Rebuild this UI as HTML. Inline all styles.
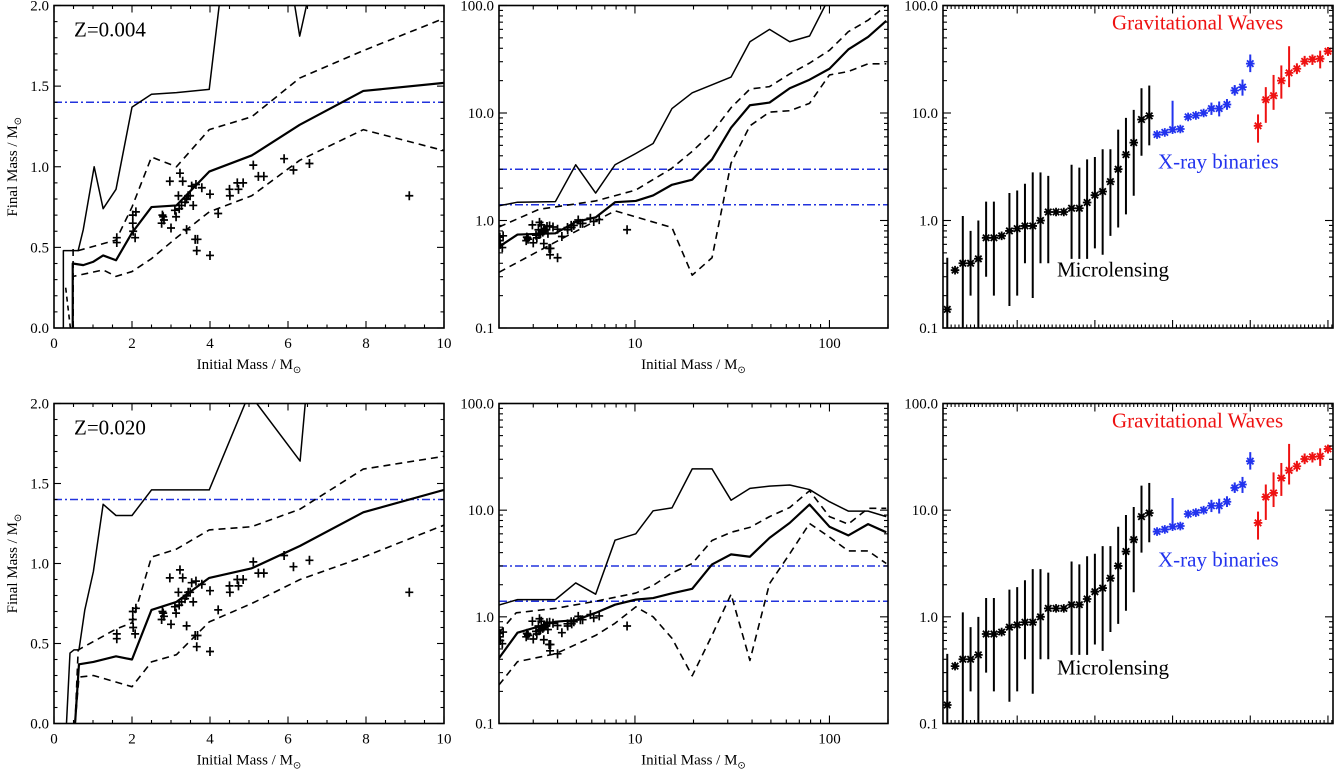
<!DOCTYPE html>
<html><head><meta charset="utf-8"><style>
html,body{margin:0;padding:0;background:#fff;}
svg{display:block;}
svg text{font-family:"Liberation Serif",serif;}
</style></head><body>
<svg id="fig" width="1336" height="769" viewBox="0 0 1336 769" xmlns="http://www.w3.org/2000/svg" font-family="Liberation Serif, serif"></svg>
<script>
// ---------- observed white dwarf points (shared) ----------
const obsMi=[1.61,1.61,2.02,2.02,2.03,2.08,2.10,2.78,2.80,2.82,2.76,3.0,2.97,3.23,3.30,3.19,3.27,3.21,3.13,3.10,3.36,3.40,3.44,3.49,3.53,3.64,3.40,3.57,3.62,3.68,3.66,3.79,4.0,4.0,4.21,4.50,4.51,4.70,4.73,4.85,5.11,5.24,5.38,5.90,6.14,6.55,9.11];
const obsMf=[0.56,0.53,0.70,0.65,0.60,0.56,0.72,0.70,0.69,0.67,0.65,0.62,0.91,0.96,0.91,0.82,0.76,0.74,0.69,0.73,0.78,0.80,0.82,0.82,0.88,0.89,0.61,0.76,0.55,0.55,0.48,0.87,0.83,0.45,0.71,0.86,0.82,0.90,0.86,0.90,1.01,0.94,0.94,1.05,0.98,1.02,0.82];

// ---------- Z=0.004 linear panel ----------
const z004UpMi=[0.24,0.24,0.62,0.75,1.03,1.26,1.59,2.0,2.5,3.14,3.98,4.26,6.14,6.3,6.52];
const z004UpMf=[0,0.48,0.48,0.61,1.0,0.74,0.86,1.37,1.45,1.46,1.48,2.05,2.05,1.81,2.05];
const z004MedMi=[0.48,0.48,0.75,1.0,1.26,1.59,2.0,2.5,3.14,3.98,5.07,6.3,7.93,10];
const z004MedMf=[0,0.40,0.39,0.41,0.45,0.42,0.59,0.75,0.76,0.97,1.07,1.26,1.47,1.52];
const z004DhMi=[0.49,0.49,0.62,1.59,2.0,2.5,3.14,3.98,5.07,6.3,7.93,10];
const z004DhMf=[0,0.49,0.48,0.545,0.75,1.06,1.0,1.23,1.31,1.55,1.72,1.92];
const z004DlMi=[0.49,0.49,1.26,1.59,2.0,2.5,3.14,3.98,5.07,6.3,7.93,10];
const z004DlMf=[0,0.32,0.36,0.32,0.35,0.43,0.56,0.72,0.82,1.04,1.23,1.10];
const z004DsMi=[0.30,0.42];
const z004DsMf=[0.25,0];

// ---------- Z=0.020 linear panel ----------
const z020UpMi=[0.32,0.41,0.51,0.64,0.79,1.01,1.26,1.59,2.0,2.5,3.14,3.98,4.9,5.05,5.2,6.31,6.46];
const z020UpMf=[0,0.44,0.46,0.46,0.71,0.95,1.37,1.30,1.30,1.46,1.46,1.46,2.0,2.08,2.0,1.64,2.05];
const z020MedMi=[0.54,0.64,1.01,1.59,2.0,2.5,3.14,3.98,5.07,6.31,7.93,10];
const z020MedMf=[0,0.37,0.385,0.42,0.40,0.71,0.76,0.91,0.97,1.11,1.32,1.46];
const z020DhMi=[0.54,0.62,1.59,2.0,2.5,3.14,3.98,5.07,6.31,7.93,10];
const z020DhMf=[0,0.46,0.59,0.63,1.04,1.09,1.21,1.23,1.34,1.59,1.67];
const z020DlMi=[0.54,0.64,1.01,2.0,2.5,3.14,3.98,5.07,6.31,7.93,10];
const z020DlMf=[0,0.29,0.30,0.23,0.385,0.43,0.635,0.75,0.90,1.04,1.24];

// ---------- Z=0.004 log panel ----------
const l004UpMi=[2,2.49,3.9,4.96,6.28,7.9,10.1,12.4,15.5,19.7,24.9,31.2,39,49.2,62.5,79,95,110];
const l004UpMf=[1.37,1.48,1.5,3.3,1.8,3.3,4.2,5.2,11,15.4,18.3,21.6,46,60,46,52,100,160];
const l004MedMi=[2,2.49,3.9,4.96,6.28,7.9,10.1,12.4,15.5,19.7,24.9,31.2,39,49.2,62.5,79,100,125,158,196];
const l004MedMf=[0.57,0.74,0.76,0.97,1.07,1.48,1.52,1.71,2.15,2.4,3.7,7.3,11.8,12.5,17,20.4,25.8,39,51,72];
const l004DhMi=[2,3.21,6.28,10.1,15.5,19.7,24.9,31.2,39,49.2,62.5,79,100,125,158,196];
const l004DhMf=[0.87,1.27,1.52,1.92,3.07,4.4,6.55,11.2,16.7,17.6,23.1,29.1,38.3,57,73,100];
const l004DlMi=[2,3.9,7.9,15.5,19.7,24.9,31.2,39,49.2,62.5,79,100,125,158,196];
const l004DlMf=[0.33,0.63,1.23,0.86,0.31,0.45,3.42,7.6,10.2,10.5,12.3,22.6,24.3,28.7,28.7];

// ---------- Z=0.020 log panel ----------
const l020UpMi=[2,2.49,3.9,4.96,6.28,7.9,10.1,12.4,15.5,19.7,24.9,31.2,39,49.2,62.5,79,100,125,158,196];
const l020UpMf=[1.29,1.45,1.45,2.08,1.63,5.23,6.0,9.86,10.5,24.4,24.4,12.4,16,16.8,17.2,15.6,12,9.8,9.8,8.7];
const l020MedMi=[2,2.49,3.9,4.96,6.28,7.9,10.1,12.4,15.5,19.7,24.9,31.2,39,49.2,62.5,79,100,125,158,196];
const l020MedMf=[0.41,0.71,0.90,0.93,1.09,1.30,1.45,1.50,1.66,1.83,3.1,3.85,3.66,5.5,7.6,11.3,7.0,5.8,7.4,6.2];
const l020DhMi=[2,2.45,3.9,6.28,10.1,12.4,15.5,19.7,24.9,31.2,39,49.2,62.5,79,100,125,158,196];
const l020DhMf=[0.71,1.09,1.2,1.4,1.67,1.97,2.58,3.16,5.2,6.2,6.9,8.7,10.6,15.2,8.7,7.4,10.4,10.4];
const l020DlMi=[2,2.49,3.9,6.28,7.9,10.1,12.4,15.5,19.7,24.9,31.2,39,49.2,62.5,79,100,125,158,196];
const l020DlMf=[0.23,0.38,0.45,0.67,0.87,1.24,1.0,0.63,0.28,0.67,1.63,0.39,2.05,3.9,7.5,5.6,4.15,4.15,3.16];

// ---------- compact object masses ----------
const lensMass=[0.149,0.345,0.40,0.40,0.44,0.69,0.69,0.72,0.80,0.84,0.89,0.89,1.0,1.2,1.2,1.2,1.3,1.3,1.47,1.72,1.86,2.3,3.0,4.1,5.3,8.7,9.4];
const lensHi=[0.45,null,1.1,0.8,1.0,1.5,1.5,null,1.8,1.9,2.2,2.8,2.8,2.6,null,null,3.3,3.1,3.7,3.9,4.6,4.6,7.0,9.0,10.7,17,18];
const lensLo=[0.05,null,0.05,0.2,0.05,0.3,0.2,null,0.16,0.2,0.4,0.19,0.4,0.4,null,null,0.44,0.44,0.44,0.55,0.48,0.72,0.86,1.14,1.7,4.0,5.0];
const xrbMass=[6.3,6.6,7.0,7.1,9.2,9.5,10,11,11,12,16.2,17.4,28.8];
const xrbHi=[null,null,13,null,null,null,null,12.5,12.8,13.5,18.2,20.5,35];
const xrbLo=[null,null,7.0,null,null,null,null,9.6,9.3,10.7,14.5,14.5,24];
const gwMass=[7.6,13.3,14.5,20,23.6,25.8,30.2,31.6,32,37.5];
const gwHi=[9.7,17.4,22.6,27.7,41.8,29,34,35,38,41];
const gwLo=[5.3,8.1,10.7,13.6,17.4,23,27,28,26,34];

const linXTicks=["0","2","4","6","8","10"];
const linYTicks=["0.0","0.5","1.0","1.5","2.0"];
const logYTicks=["0.1","1.0","10.0","100.0"];
const logXTicks=["10","100"];
const eddington=[1.4];
const tovLimits=[1.4,3.0];

const NS="http://www.w3.org/2000/svg";
const FONT='"Liberation Serif", serif';
const svg=document.getElementById('fig');
function mk(tag,attrs,parent){const e=document.createElementNS(NS,tag);for(const k in attrs)e.setAttribute(k,attrs[k]);(parent||svg).appendChild(e);return e;}

const cols=[[54,444],[499,888],[943,1333]];
const rows=[[5.5,328],[403.5,723.5]];
let clipN=0;

function panel(c,r,xs,ys,name){
  const [X0,X1]=cols[c],[Y0,Y1]=rows[r];
  const g=mk('g',{});
  
  
  const id='clip'+(clipN++);
  const cp=mk('clipPath',{id:id},g);mk('rect',{x:X0,y:Y0,width:X1-X0,height:Y1-Y0},cp);
  const inner=mk('g',{'clip-path':'url(#'+id+')'},g);
  const sx=v=>X0+(X1-X0)*xs(v), sy=v=>Y1-(Y1-Y0)*ys(v);
  return {g,inner,sx,sy,X0,X1,Y0,Y1};
}
const lin=(a,b)=>v=>(v-a)/(b-a);
const lg=(a,b)=>v=>(Math.log10(v)-Math.log10(a))/(Math.log10(b)-Math.log10(a));

function frame(p){
  const f=mk('rect',{x:p.X0,y:p.Y0,width:p.X1-p.X0,height:p.Y1-p.Y0,fill:'none',stroke:'#000','stroke-width':1.6},p.g);
  
  
}
function xtick(p,v,len){const x=p.sx(v);mk('line',{x1:x,x2:x,y1:p.Y1,y2:p.Y1-len,stroke:'#000','stroke-width':1.1},p.g);mk('line',{x1:x,x2:x,y1:p.Y0,y2:p.Y0+len,stroke:'#000','stroke-width':1.1},p.g);}
function ytick(p,v,len){const y=p.sy(v);mk('line',{x1:p.X0,x2:p.X0+len,y1:y,y2:y,stroke:'#000','stroke-width':1.1},p.g);mk('line',{x1:p.X1,x2:p.X1-len,y1:y,y2:y,stroke:'#000','stroke-width':1.1},p.g);}
function txt(p,s,x,y,anchor,size,color,name){const t=mk('text',{x:x,y:y,'text-anchor':anchor,'font-size':size,fill:color||'#000','font-family':FONT},p?p.g:svg);t.textContent=s;return t;}
function msunLabel(x,y,prefix,rot,name){
  const t=mk('text',{x:x,y:y,'text-anchor':'middle','font-size':15,'font-family':FONT});
  if(rot)t.setAttribute('transform','rotate(-90 '+x+' '+y+')');
  
  
  const a=mk('tspan',{},t);a.textContent=prefix+' / M';
  const b=mk('tspan',{'font-size':10,dy:4},t);b.textContent='⊙';
}
function curve(p,xa,ya,w,dash,name){
  const d=xa.map((v,i)=>(i?'L':'M')+p.sx(v).toFixed(2)+','+p.sy(ya[i]).toFixed(2)).join('');
  const e=mk('path',{d:d,fill:'none',stroke:'#000','stroke-width':w,'stroke-dasharray':dash||'none','stroke-linejoin':'round'},p.inner);
  
  
}
function hline(p,v,name){
  const y=p.sy(v);
  const e=mk('line',{x1:p.X0,x2:p.X1,y1:y,y2:y,stroke:'#2233dd','stroke-width':1.5,'stroke-dasharray':'8 3 2 3'},p.inner);
  
  
}
function crosses(p){
  obsMi.forEach((m,i)=>{
    const x=p.sx(m),y=p.sy(obsMf[i]);
    const e=mk('path',{d:`M${x-4},${y}H${x+4}M${x},${y-4.5}V${y+4.5}`,stroke:'#000','stroke-width':1.7},p.inner);
    
    
  });
}

function linPanel(r,up,med,dh,dl,extra,label){
  const p=panel(0,r,lin(0,10),lin(0,2),'linear-panel-'+label);
  hline(p,eddington[0],'chandrasekhar-limit-line');
  curve(p,up[0],up[1],1.5,null,'max-final-mass-curve');
  curve(p,med[0],med[1],2.2,null,'median-final-mass-curve');
  curve(p,dh[0],dh[1],1.6,'7 5','upper-quartile-curve');
  curve(p,dl[0],dl[1],1.6,'7 5','lower-quartile-curve');
  if(extra)curve(p,extra[0],extra[1],1.6,'5 4','low-mass-dashed-curve');
  crosses(p);
  frame(p);
  for(let v=0;v<=10.001;v+=0.5){xtick(p,v,Math.abs(v%2)<0.01?7:3.5);}
  for(let v=0;v<=2.001;v+=0.1){const mj=Math.abs((v*10)%5)<0.01||Math.abs((v*10)%5-5)<0.01;ytick(p,v,mj?7:3.5);}
  linXTicks.forEach((s,i)=>txt(p,s,p.sx(i*2),p.Y1+20,'middle',15,'#000','x-tick-label'));
  linYTicks.forEach((s,i)=>txt(p,s,49,p.sy(i*0.5)+5,'end',15,'#000','y-tick-label'));
  msunLabel((p.X0+p.X1)/2,p.Y1+41,'Initial Mass',false,'x-axis-title');
  msunLabel(17,(p.Y0+p.Y1)/2,'Final Mass',true,'y-axis-title');
  txt(p,label,74,p.Y0+31,'start',21,'#000','metallicity-label');
}
function logTicksY(p){
  for(let d=-1;d<2;d++)for(let k=1;k<=9;k++){const v=k*Math.pow(10,d);ytick(p,v,k==1?8:4);}
  ytick(p,100,8);
}
function logPanel(r,up,med,dh,dl){
  const p=panel(1,r,lg(2,200),lg(0.1,100),'log-panel-row'+r);
  tovLimits.forEach(v=>hline(p,v,'mass-limit-line'));
  curve(p,up[0],up[1],1.5,null,'max-final-mass-curve');
  curve(p,med[0],med[1],2.2,null,'median-final-mass-curve');
  curve(p,dh[0],dh[1],1.6,'7 5','upper-quartile-curve');
  curve(p,dl[0],dl[1],1.6,'7 5','lower-quartile-curve');
  crosses(p);
  frame(p);
  for(let d=0;d<3;d++)for(let k=1;k<=9;k++){const v=k*Math.pow(10,d);if(v>=2&&v<=200)xtick(p,v,k==1?8:4);}
  xtick(p,200,4);
  logTicksY(p);
  logXTicks.forEach((s,i)=>txt(p,s,p.sx(Math.pow(10,i+1)),p.Y1+20,'middle',15,'#000','x-tick-label'));
  logYTicks.forEach((s,i)=>txt(p,s,494,p.sy(Math.pow(10,i-1))+5,'end',15,'#000','y-tick-label'));
  msunLabel((p.X0+p.X1)/2,p.Y1+41,'Initial Mass',false,'x-axis-title');
}
function star(p,x,y,col){
  const s=4.3;
  const e=mk('path',{d:`M${x-s},${y}H${x+s}M${x},${y-s}V${y+s}M${x-s*0.75},${y-s*0.75}L${x+s*0.75},${y+s*0.75}M${x-s*0.75},${y+s*0.75}L${x+s*0.75},${y-s*0.75}`,stroke:col,'stroke-width':1.8},p.inner);
  
  
}
function series(p,start,mass,hi,lo,col){
  mass.forEach((m,i)=>{
    const x=p.sx(start+i);
    if(hi[i]!==null){
      const e=mk('line',{x1:x,x2:x,y1:p.sy(hi[i]),y2:p.sy(lo[i]),stroke:col,'stroke-width':2},p.inner);
      
      
    }
    star(p,x,p.sy(m),col);
  });
}
function massPanel(r){
  const p=panel(2,r,lin(0.45,50.65),lg(0.1,100),'compact-object-panel-row'+r);
  series(p,1,lensMass,lensHi,lensLo,'#000');
  series(p,1+lensMass.length,xrbMass,xrbHi,xrbLo,'#2233ee');
  series(p,1+lensMass.length+xrbMass.length,gwMass,gwHi,gwLo,'#ee1111');
  frame(p);
  for(let v=1;v<=50.6;v+=0.5){xtick(p,v,(Math.abs(v%10)<0.01)?8:3.5);}
  logTicksY(p);
  logYTicks.forEach((s,i)=>txt(p,s,938,p.sy(Math.pow(10,i-1))+5,'end',15,'#000','y-tick-label'));
  txt(p,'Gravitational Waves',1112,p.Y0+24,'start',21,'#ee1111','gw-label');
  txt(p,'X-ray binaries',1158,p.Y0+163,'start',21,'#2233ee','xrb-label');
  txt(p,'Microlensing',1057,p.Y0+271,'start',21,'#000','microlensing-label');
}

linPanel(0,[z004UpMi,z004UpMf],[z004MedMi,z004MedMf],[z004DhMi,z004DhMf],[z004DlMi,z004DlMf],[z004DsMi,z004DsMf],'Z=0.004');
logPanel(0,[l004UpMi,l004UpMf],[l004MedMi,l004MedMf],[l004DhMi,l004DhMf],[l004DlMi,l004DlMf]);
massPanel(0);
linPanel(1,[z020UpMi,z020UpMf],[z020MedMi,z020MedMf],[z020DhMi,z020DhMf],[z020DlMi,z020DlMf],null,'Z=0.020');
logPanel(1,[l020UpMi,l020UpMf],[l020MedMi,l020MedMf],[l020DhMi,l020DhMf],[l020DlMi,l020DlMf]);
massPanel(1);
</script>
</body></html>
